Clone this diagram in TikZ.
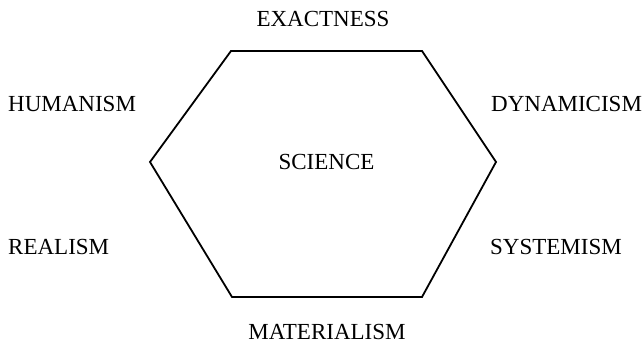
\documentclass[tikz,border=0pt]{standalone}
\usepackage{fontspec}
\setmainfont{Liberation Serif}
\usepackage{tikz}

\begin{document}
\begin{tikzpicture}[x=1pt,y=-1pt,
  word/.style={inner sep=0pt,font=\fontsize{23}{27}\selectfont}]
\useasboundingbox (0,0) rectangle (643,344);
\coordinate (tl) at (231,51);
\coordinate (tr) at (422,51);
\coordinate (r) at (496,162);
\coordinate (br) at (422,297);
\coordinate (bl) at (232,297);
\coordinate (l) at (150,162);
\draw[line width=1.8pt,line join=miter] (tl) -- (tr) -- (r) -- (br) -- (bl) -- (l) -- cycle;
\node[word,anchor=base] (exact) at (323,26.7) {EXACTNESS};
\node[word,anchor=base] (mater) at (327,340) {MATERIALISM};
\node[word,anchor=base] (sci) at (326.5,169.3) {SCIENCE};
\node[word,anchor=base west] (human) at (8,111.7) {HUMANISM};
\node[word,anchor=base west] (real) at (8,254.3) {REALISM};
\node[word,anchor=base west] (dyna) at (491,111.7) {DYNAMICISM};
\node[word,anchor=base west] (syst) at (490,254.3) {SYSTEMISM};
\end{tikzpicture}
\end{document}
